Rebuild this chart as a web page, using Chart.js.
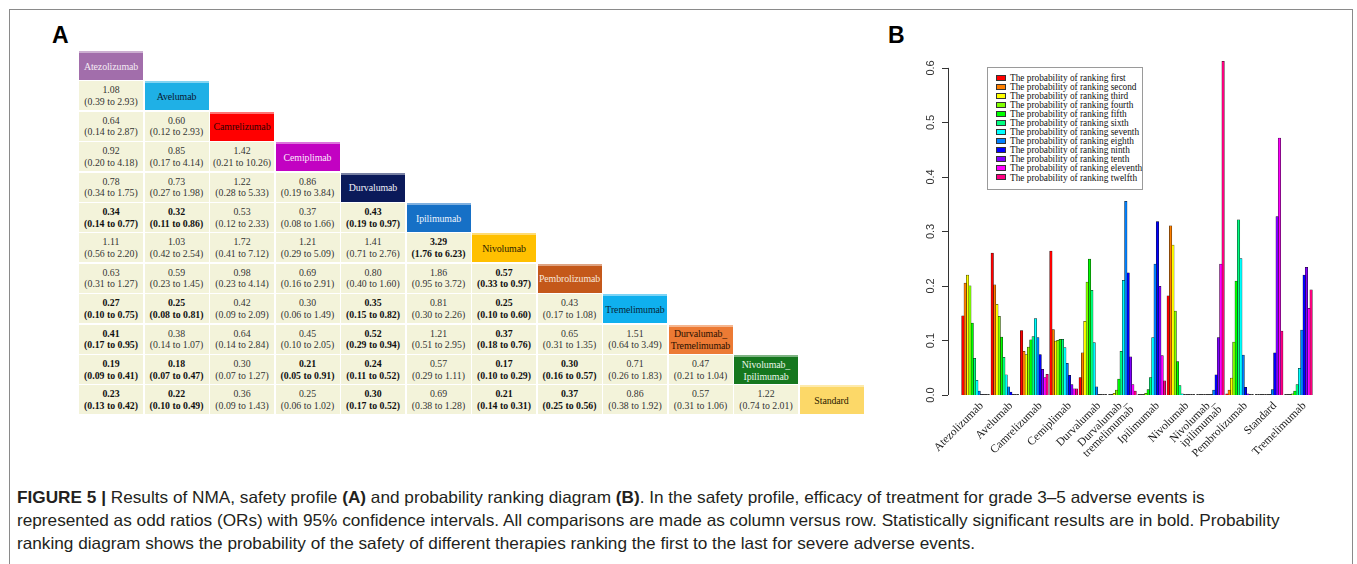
<!DOCTYPE html>
<html>
<head>
<meta charset="utf-8">
<title>Figure 5 - safety profile and ranking</title>
<script src="https://cdn.jsdelivr.net/npm/chart.js"></script>
<style>
  body { margin: 0; background: #fff; width: 1357px; height: 564px; position: relative; overflow: hidden; }
  #frame { position: absolute; left: 9px; top: 9px; width: 1344px; height: 600px; border: 1px solid #8a8a8a; box-sizing: border-box; }
  .panel { position: absolute; font-family: "Liberation Sans", Arial, sans-serif; font-weight: bold; font-size: 23px; color: #000; }
  .cell { position: absolute; box-sizing: border-box; font-family: "Liberation Serif", "Times New Roman", serif; text-align: center; display: flex; flex-direction: column; justify-content: center; white-space: nowrap; }
  .cell.or { background: #f3f3da; color: #333; font-size: 9.8px; line-height: 11.5px; }
  .cell.or.sig { font-weight: bold; color: #111; }
  .cell.head { font-size: 9.9px; line-height: 12px; letter-spacing: -0.1px; }
  #chartBox { position: absolute; left: 890px; top: 40px; width: 450px; height: 420px; }
  #legend { position: absolute; left: 987px; top: 67px; width: 156px; height: 123px; border: 1px solid #9a9a9a; box-sizing: border-box; background: #fff; padding: 6px 0 0 8px; font-family: "Liberation Serif", "Times New Roman", serif; font-size: 9.3px; color: #111; }
  #legend div { height: 9.05px; line-height: 9.05px; white-space: nowrap; }
  #legend span { display: inline-block; width: 8px; height: 4px; border: 0.5px solid #333; margin-right: 4px; vertical-align: middle; position: relative; top: -1px; }
  #caption { position: absolute; left: 17px; top: 486px; font-family: "Liberation Sans Narrow", "Liberation Sans", Arial, sans-serif; font-size: 16.5px; color: #231f20; }
  #caption div { height: 23px; line-height: 23px; white-space: nowrap; transform-origin: left center; }
</style>
</head>
<body>
<div id="frame"></div>
<div class="panel" style="left:52px; top:22px;">A</div>
<div class="panel" style="left:888px; top:22px;">B</div>
<div id="table"></div>
<div id="chartBox"><canvas id="myChart" width="450" height="420"></canvas></div>
<div id="legend"></div>
<div id="caption">
  <div id="cap1"><b>FIGURE 5 |</b> Results of NMA, safety profile <b>(A)</b> and probability ranking diagram <b>(B)</b>. In the safety profile, efficacy of treatment for grade 3–5 adverse events is</div>
  <div id="cap2">represented as odd ratios (ORs) with 95% confidence intervals. All comparisons are made as column versus row. Statistically significant results are in bold. Probability</div>
  <div id="cap3">ranking diagram shows the probability of the safety of different therapies ranking the first to the last for severe adverse events.</div>
</div>
<script>
// ---- panel A: league table ----
var treatments = ['Atezolizumab', 'Avelumab', 'Camrelizumab', 'Cemiplimab', 'Durvalumab', 'Ipilimumab',
  'Nivolumab', 'Pembrolizumab', 'Tremelimumab', 'Durvalumab_\nTremelimumab', 'Nivolumab_\nIpilimumab', 'Standard'];
var headColors = ['#a26eab', '#1fb0e6', '#ff0000', '#c202c2', '#0b1a5a', '#1670c6',
  '#ffc000', '#c4581a', '#0fb0ee', '#ec7a34', '#15771e', '#fcd868'];
var headText = ['#f4ecf4', '#0a1830', '#300000', '#fbe8fb', '#f0f0f8', '#eef4fc',
  '#2a2000', '#f8e6da', '#06283a', '#2a1000', '#eaf6ea', '#2a2000'];
// odds ratios (95% CI), row vs column, lower triangle
var leagueRows = [
  [],
  ['1.08 (0.39 to 2.93)'],
  ['0.64 (0.14 to 2.87)', '0.60 (0.12 to 2.93)'],
  ['0.92 (0.20 to 4.18)', '0.85 (0.17 to 4.14)', '1.42 (0.21 to 10.26)'],
  ['0.78 (0.34 to 1.75)', '0.73 (0.27 to 1.98)', '1.22 (0.28 to 5.33)', '0.86 (0.19 to 3.84)'],
  ['0.34 (0.14 to 0.77)', '0.32 (0.11 to 0.86)', '0.53 (0.12 to 2.33)', '0.37 (0.08 to 1.66)', '0.43 (0.19 to 0.97)'],
  ['1.11 (0.56 to 2.20)', '1.03 (0.42 to 2.54)', '1.72 (0.41 to 7.12)', '1.21 (0.29 to 5.09)', '1.41 (0.71 to 2.76)', '3.29 (1.76 to 6.23)'],
  ['0.63 (0.31 to 1.27)', '0.59 (0.23 to 1.45)', '0.98 (0.23 to 4.14)', '0.69 (0.16 to 2.91)', '0.80 (0.40 to 1.60)', '1.86 (0.95 to 3.72)', '0.57 (0.33 to 0.97)'],
  ['0.27 (0.10 to 0.75)', '0.25 (0.08 to 0.81)', '0.42 (0.09 to 2.09)', '0.30 (0.06 to 1.49)', '0.35 (0.15 to 0.82)', '0.81 (0.30 to 2.26)', '0.25 (0.10 to 0.60)', '0.43 (0.17 to 1.08)'],
  ['0.41 (0.17 to 0.95)', '0.38 (0.14 to 1.07)', '0.64 (0.14 to 2.84)', '0.45 (0.10 to 2.05)', '0.52 (0.29 to 0.94)', '1.21 (0.51 to 2.95)', '0.37 (0.18 to 0.76)', '0.65 (0.31 to 1.35)', '1.51 (0.64 to 3.49)'],
  ['0.19 (0.09 to 0.41)', '0.18 (0.07 to 0.47)', '0.30 (0.07 to 1.27)', '0.21 (0.05 to 0.91)', '0.24 (0.11 to 0.52)', '0.57 (0.29 to 1.11)', '0.17 (0.10 to 0.29)', '0.30 (0.16 to 0.57)', '0.71 (0.26 to 1.83)', '0.47 (0.21 to 1.04)'],
  ['0.23 (0.13 to 0.42)', '0.22 (0.10 to 0.49)', '0.36 (0.09 to 1.43)', '0.25 (0.06 to 1.02)', '0.30 (0.17 to 0.52)', '0.69 (0.38 to 1.28)', '0.21 (0.14 to 0.31)', '0.37 (0.25 to 0.56)', '0.86 (0.38 to 1.92)', '0.57 (0.31 to 1.06)', '1.22 (0.74 to 2.01)']
];

var table = document.getElementById('table');
var x0 = 79, y0 = 51, colStep = 65.5, rowStep = 30.4, cw = 64, ch = 29;

function lighten(hex, amt) {
  var n = parseInt(hex.slice(1), 16);
  var r = n >> 16, g = (n >> 8) & 255, b = n & 255;
  r = Math.round(r + (255 - r) * amt); g = Math.round(g + (255 - g) * amt); b = Math.round(b + (255 - b) * amt);
  return 'rgb(' + r + ',' + g + ',' + b + ')';
}

treatments.forEach(function(name, i) {
  var d = document.createElement('div');
  d.className = 'cell head';
  d.style.left = (x0 + i * colStep) + 'px';
  d.style.top = (y0 + i * rowStep) + 'px';
  d.style.width = cw + 'px';
  d.style.height = ch + 'px';
  d.style.background = headColors[i];
  d.style.color = headText[i];
  d.style.borderTop = '2px solid ' + lighten(headColors[i], 0.45);
  d.innerHTML = name.split('\n').join('<br>');
  table.appendChild(d);

  leagueRows[i].forEach(function(txt, j) {
    var m = txt.match(/([\d.]+) \(([\d.]+) to ([\d.]+)\)/);
    var lo = parseFloat(m[2]), hi = parseFloat(m[3]);
    var c = document.createElement('div');
    c.className = 'cell or' + ((hi < 1 || lo > 1) ? ' sig' : '');
    c.style.left = (x0 + j * colStep) + 'px';
    c.style.top = (y0 + i * rowStep) + 'px';
    c.style.width = cw + 'px';
    c.style.height = ch + 'px';
    c.innerHTML = m[1] + '<br>(' + m[2] + ' to ' + m[3] + ')';
    table.appendChild(c);
  });
});

// ---- panel B: probability ranking ----
var drugs = ['Atezolizumab', 'Avelumab', 'Camrelizumab', 'Cemiplimab', 'Durvalumab', ['Durvalumab_', 'tremelimumab'],
  'Ipilimumab', 'Nivolumab', ['Nivolumab_', 'ipilimumab'], 'Pembrolizumab', 'Standard', 'Tremelimumab'];
var rankNames = ['first', 'second', 'third', 'fourth', 'fifth', 'sixth', 'seventh', 'eighth', 'ninth', 'tenth', 'eleventh', 'twelfth'];
var rankColors = ['#ff0000', '#ff8000', '#ffff00', '#80ff00', '#00ff00', '#00ff80',
  '#00ffff', '#0080ff', '#0000ff', '#8000ff', '#ff00ff', '#ff0080'];

var probFirst    = [0.145, 0.260, 0.118, 0.264, 0.032, 0,     0,     0.182, 0,     0.002, 0,     0];
var probSecond   = [0.205, 0.202, 0.080, 0.120, 0.077, 0.001, 0,     0.310, 0,     0.009, 0,     0.001];
var probThird    = [0.220, 0.166, 0.074, 0.099, 0.135, 0.003, 0.001, 0.275, 0,     0.031, 0,     0.001];
var probFourth   = [0.200, 0.144, 0.088, 0.100, 0.207, 0.009, 0.003, 0.154, 0,     0.097, 0,     0.002];
var probFifth    = [0.132, 0.106, 0.101, 0.102, 0.249, 0.029, 0.010, 0.061, 0,     0.209, 0,     0.007];
var probSixth    = [0.067, 0.069, 0.107, 0.102, 0.192, 0.080, 0.032, 0.017, 0,     0.321, 0,     0.019];
var probSeventh  = [0.027, 0.037, 0.140, 0.087, 0.096, 0.210, 0.105, 0.002, 0.001, 0.250, 0,     0.049];
var probEighth   = [0.007, 0.015, 0.105, 0.058, 0.015, 0.355, 0.240, 0,     0.009, 0.073, 0.010, 0.119];
var probNinth    = [0.001, 0.005, 0.074, 0.036, 0.001, 0.224, 0.318, 0,     0.037, 0.014, 0.077, 0.220];
var probTenth    = [0,     0.001, 0.047, 0.019, 0,     0.070, 0.199, 0,     0.105, 0.002, 0.327, 0.234];
var probEleventh = [0,     0,     0.032, 0.011, 0,     0.019, 0.072, 0,     0.240, 0,     0.471, 0.159];
var probTwelfth  = [0,     0,     0.038, 0.011, 0,     0.007, 0.026, 0,     0.612, 0,     0.117, 0.193];
var yTicks = [0, 0.1, 0.2, 0.3, 0.4, 0.5, 0.6];

var probs = [probFirst, probSecond, probThird, probFourth, probFifth, probSixth,
  probSeventh, probEighth, probNinth, probTenth, probEleventh, probTwelfth];

var datasets = rankNames.map(function(r, k) {
  return {
    label: 'The probability of ranking ' + r,
    data: probs[k],
    backgroundColor: rankColors[k],
    borderColor: '#111',
    borderWidth: 0.5,
    borderSkipped: false,
    inflateAmount: 0.4,
    categoryPercentage: 0.95,
    barPercentage: 1.0
  };
});

// R style axes: y line from 0 to 0.6 with outward ticks, rotated group names under the bars
var rAxis = {
  id: 'rAxis',
  afterDatasetsDraw: function(chart) {
    // zero-height bars still show their outline at the base
    var ctx = chart.ctx;
    ctx.save();
    ctx.strokeStyle = '#333';
    ctx.lineWidth = 1;
    chart.data.datasets.forEach(function(ds, k) {
      chart.getDatasetMeta(k).data.forEach(function(bar) {
        if (Math.abs(bar.base - bar.y) < 1) {
          ctx.beginPath();
          ctx.moveTo(bar.x - bar.width / 2, Math.round(bar.base) - 0.5);
          ctx.lineTo(bar.x + bar.width / 2, Math.round(bar.base) - 0.5);
          ctx.stroke();
        }
      });
    });
    ctx.restore();
  },
  afterDraw: function(chart) {
    var ctx = chart.ctx, y = chart.scales.y, x = chart.scales.x;
    var ax = chart.chartArea.left - 13;
    ctx.save();
    ctx.strokeStyle = '#333';
    ctx.lineWidth = 1;
    ctx.beginPath();
    ctx.moveTo(ax + 0.5, y.getPixelForValue(0));
    ctx.lineTo(ax + 0.5, y.getPixelForValue(0.6));
    yTicks.forEach(function(v) {
      var py = Math.round(y.getPixelForValue(v)) + 0.5;
      ctx.moveTo(ax, py);
      ctx.lineTo(ax - 6, py);
    });
    ctx.stroke();
    ctx.fillStyle = '#333';
    ctx.font = '11px "Liberation Sans", Arial, sans-serif';
    ctx.textAlign = 'center';
    ctx.textBaseline = 'middle';
    yTicks.forEach(function(v) {
      ctx.save();
      ctx.translate(ax - 17, y.getPixelForValue(v));
      ctx.rotate(-Math.PI / 2);
      ctx.fillText(v.toFixed(1), 0, 0);
      ctx.restore();
    });

    ctx.fillStyle = '#1a1a1a';
    ctx.font = '11.5px "Liberation Serif", "Times New Roman", serif';
    ctx.textAlign = 'right';
    var lh = 11;
    chart.data.labels.forEach(function(lab, i) {
      var lines = Array.isArray(lab) ? lab : [lab];
      ctx.save();
      ctx.translate(x.getPixelForTick(i) + 6, chart.chartArea.bottom + 9);
      ctx.rotate(-Math.PI / 4);
      lines.forEach(function(t, k) {
        ctx.fillText(t, 0, (k - (lines.length - 1) / 2) * lh);
      });
      ctx.restore();
    });
    ctx.restore();
  }
};

var ctx = document.getElementById('myChart').getContext('2d');
var myChart = new Chart(ctx, {
  type: 'bar',
  data: { labels: drugs, datasets: datasets },
  options: {
    responsive: false,
    maintainAspectRatio: false,
    animation: false,
    layout: { padding: { left: 0, right: 27, top: 17, bottom: 0 } },
    plugins: { legend: { display: false }, tooltip: { enabled: false } },
    scales: {
      x: {
        grid: { display: false, drawTicks: false },
        border: { display: false },
        ticks: { display: false },
        afterFit: function(s) { s.height = 65; }
      },
      y: {
        min: 0, max: 0.62,
        grid: { display: false, drawTicks: false },
        border: { display: false },
        ticks: { display: false },
        afterFit: function(s) { s.width = 71; }
      }
    }
  },
  plugins: [rAxis]
});

// html legend built from the chart datasets
var legend = document.getElementById('legend');
myChart.data.datasets.forEach(function(ds) {
  var row = document.createElement('div');
  row.innerHTML = '<span style="background:' + ds.backgroundColor + '"></span>' + ds.label;
  legend.appendChild(row);
});

// stretch caption lines to the printed width
var cap1 = document.getElementById('cap1');
var sc = 1263 / cap1.scrollWidth;
['cap1', 'cap2', 'cap3'].forEach(function(id) {
  document.getElementById(id).style.transform = 'scaleX(' + sc + ')';
});
</script>
</body>
</html>
